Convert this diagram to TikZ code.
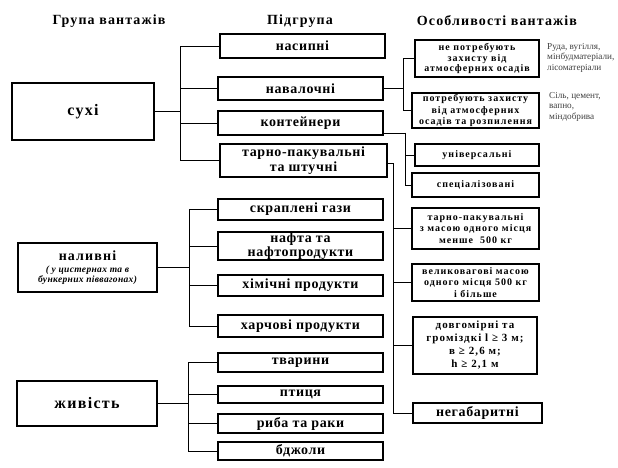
\documentclass[tikz,border=0pt]{standalone}
\usepackage{fontspec}
\usetikzlibrary{calc}
\setmainfont{Liberation Serif}
\newfontfamily\lsA[LetterSpace=8]{Liberation Serif}
\newfontfamily\lsB[LetterSpace=4.5]{Liberation Serif}
\newfontfamily\lsC[LetterSpace=10]{Liberation Serif}
\newfontfamily\lsD[LetterSpace=3.5]{Liberation Serif}
\begin{document}
\begin{tikzpicture}[x=1pt,y=-1pt,
  box/.style={draw, line width=1.1pt, inner sep=0pt, align=center},
  grp/.style={box, font=\lsA\bfseries\fontsize{16}{18}\selectfont},
  sub/.style={box, font=\lsB\bfseries\fontsize{14}{14.5}\selectfont, minimum width=165pt},
  feat/.style={box, font=\lsC\bfseries\fontsize{10}{11.5}\selectfont},
  hdr/.style={font=\lsA\bfseries\fontsize{14}{16}\selectfont},
  side/.style={font=\fontsize{9.2}{10.5}\selectfont, anchor=north west, text=black!75, align=left, inner sep=0pt},
  conn/.style={line width=0.8pt}]
\useasboundingbox (0,0) rectangle (618,468);
\fill[white] (0,0) rectangle (618,468);
% headers
\node[hdr] (h1) at (109,21) {Група вантажів};
\node[hdr] (h2) at (300,21) {Підгрупа};
\node[hdr] (h3) at (497,21) {Особливості вантажів};
% groups
\node[grp, minimum width=142pt, minimum height=57pt] (dry) at (83,111.5) {сухі};
\node[grp, font=\lsA\bfseries\fontsize{14}{10.5}\selectfont, minimum width=139pt, minimum height=49pt] (liq) at (87.5,267.5)
  {наливні\\[1.5pt]
   {\lsD\itshape\fontsize{9.5}{10}\selectfont ( у цистернах та в}\\
   {\lsD\itshape\fontsize{9.5}{10}\selectfont бункерних піввагонах)}};
\node[grp, minimum width=140pt, minimum height=45pt] (live) at (87,403.5) {живість};
% subgroups
\node[sub, minimum height=24pt] (m1) at (302.5,46) {насипні};
\node[sub, minimum height=23pt] (m2) at (300.5,88.5) {навалочні};
\node[sub, minimum height=24pt] (m3) at (300.5,123) {контейнери};
\node[sub, minimum width=167pt, minimum height=33pt] (m4) at (303.5,160.5) {тарно-пакувальні\\та штучні};
\node[sub, minimum height=21pt] (m5) at (300.5,209.5) {скраплені гази};
\node[sub, minimum height=28pt] (m6) at (300.5,246) {нафта та\\нафтопродукти};
\node[sub, minimum height=21pt] (m7) at (300.5,285.5) {хімічні продукти};
\node[sub, minimum height=22pt] (m8) at (300.5,326) {харчові продукти};
\node[sub, minimum height=19pt] (m9) at (300.5,362.5) {тварини};
\node[sub, minimum height=17pt] (m10) at (300.5,394.5) {птиця};
\node[sub, minimum height=19pt] (m11) at (300.5,423.5) {риба та раки};
\node[sub, minimum height=18pt] (m12) at (300.5,451) {бджоли};
% features
\node[feat, font=\lsC\bfseries\fontsize{10}{10.5}\selectfont, minimum width=124pt, minimum height=37pt] (r1) at (477,58.5) {не потребують\\захисту від\\атмосферних осадів};
\node[feat, minimum width=127pt, minimum height=35pt] (r2) at (475.5,110.5) {потребують захисту\\від атмосферних\\осадів та розпилення};
\node[feat, minimum width=124pt, minimum height=22pt] (r3) at (477,155) {універсальні};
\node[feat, minimum width=127pt, minimum height=24pt] (r4) at (475.5,185) {спеціалізовані};
\node[feat, minimum width=127pt, minimum height=41pt] (r5) at (475.5,228.5) {тарно-пакувальні\\з масою одного місця\\менше \ 500 кг};
\node[feat, minimum width=127pt, minimum height=37pt] (r6) at (475.5,282.5) {великовагові масою\\одного місця 500 кг\\і більше};
\node[feat, font=\lsC\bfseries\fontsize{11}{13}\selectfont, minimum width=124pt, minimum height=57pt] (r7) at (475,345.5) {довгомірні та\\громіздкі l ≥ 3 м;\\в ≥ 2,6 м;\\h ≥ 2,1 м};
\node[sub, minimum width=129pt, minimum height=20pt] (r8) at (477.5,413) {негабаритні};
% side notes
\begin{scope}
\clip (0,0) rectangle (618,468);
\node[side] (s1) at (547,43) {Руда, вугілля,\\мінбудматеріали,\\лісоматеріали};
\node[side] (s2) at (549,92) {Сіль, цемент,\\вапно,\\міндобрива};
\end{scope}
% connectors
\draw[conn] (dry.east) -- ++(26,0) coordinate (j1);
\foreach \n in {m1,m2,m3,m4} \draw[conn] (j1) |- (\n.west);
\draw[conn] (liq.east) -- ++(32,0) coordinate (j2);
\foreach \n in {m5,m6,m7,m8} \draw[conn] (j2) |- (\n.west);
\draw[conn] (live.east) -- ++(31,0) coordinate (j3);
\foreach \n in {m9,m10,m11,m12} \draw[conn] (j3) |- (\n.west);
\draw[conn] (m2.east) -- ++(20,0) coordinate (j4);
\foreach \n in {r1,r2} \draw[conn] (j4) |- (\n.west);
\draw[conn] ($(m3.east)+(0,10)$) -- ++(22,0) coordinate (j5);
\foreach \n in {r3,r4} \draw[conn] (j5) |- (\n.west);
\draw[conn] ($(m4.east)+(0,2.5)$) -- ++(6,0) coordinate (j6);
\foreach \n in {r5,r6,r7,r8} \draw[conn] (j6) |- (\n.west);
\end{tikzpicture}
\end{document}
